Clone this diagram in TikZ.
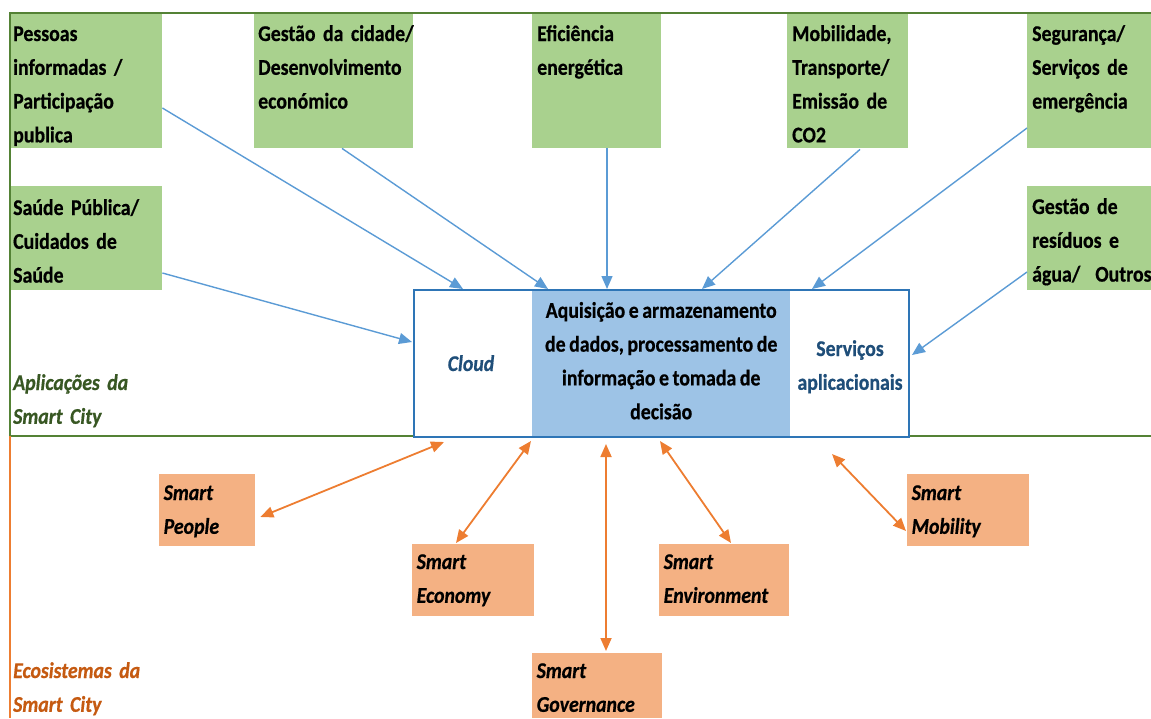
\documentclass[tikz,border=0pt]{standalone}
\usepackage{fontspec}
\setmainfont{Carlito}[FakeStretch=0.88,WordSpace=0.8,
  BoldFeatures={FakeBold=0.6},BoldItalicFeatures={FakeBold=0.6}]
\usetikzlibrary{arrows.meta}
\definecolor{gfill}{HTML}{A9D18E}
\definecolor{ofill}{HTML}{F4B183}
\definecolor{pfill}{HTML}{9DC3E6}
\definecolor{frameg}{HTML}{548235}
\definecolor{frameo}{HTML}{ED7D31}
\definecolor{bline}{HTML}{2E75B6}
\definecolor{barr}{HTML}{5B9BD5}
\definecolor{navy}{HTML}{1F4E79}
\definecolor{dgreen}{HTML}{385723}
\definecolor{dorange}{HTML}{C55A11}

\begin{document}
\begin{tikzpicture}[x=1pt,y=-1pt,
  bodyfont/.style={font=\fontsize{22.5}{33.8}\selectfont\bfseries},
  slantfont/.style={font=\fontsize{22.5}{33.8}\selectfont\bfseries\itshape},
  gbox/.style={rectangle,fill=gfill,inner sep=0,anchor=north west},
  obox/.style={rectangle,fill=ofill,inner sep=0,anchor=north west},
  boxtext/.style={bodyfont,anchor=base west,inner sep=0,align=left,text width=200pt},
  smarttext/.style={slantfont,anchor=base west,inner sep=0,align=left,text width=160pt},
  barrow/.style={draw=barr,line width=1.4pt,-{Triangle[length=13pt,width=11pt]}},
  oarrow/.style={draw=frameo,line width=1.8pt,
    {Triangle[length=13pt,width=11pt]}-{Triangle[length=13pt,width=11pt]}},
  head/.style={bodyfont,inner sep=0}
]
\useasboundingbox (0,0) rectangle (1151,718);

% application boxes (green)
\node[gbox,minimum width=152pt,minimum height=134pt] (pess) at (10,14) {};
\node[gbox,minimum width=159pt,minimum height=134pt] (gest) at (254,14) {};
\node[gbox,minimum width=129pt,minimum height=134pt] (efic) at (532,14) {};
\node[gbox,minimum width=121pt,minimum height=134pt] (mob)  at (787,14) {};
\node[gbox,minimum width=124pt,minimum height=134pt] (seg)  at (1027,14) {};
\node[gbox,minimum width=152pt,minimum height=104pt] (saude) at (10,186) {};
\node[gbox,minimum width=124pt,minimum height=104pt] (resid) at (1027,186) {};

\node[boxtext] (pess-t) at ([xshift=3pt,yshift=-27pt]pess.north west)
  {Pessoas\\informadas /\\Participação\\publica};
\node[boxtext] (gest-t) at ([xshift=4pt,yshift=-27pt]gest.north west)
  {Gestão da cidade/\\Desenvolvimento\\económico};
\node[boxtext] (efic-t) at ([xshift=5pt,yshift=-27pt]efic.north west)
  {Eficiência\\energética};
\node[boxtext] (mob-t) at ([xshift=5pt,yshift=-27pt]mob.north west)
  {Mobilidade,\\Transporte/\\Emissão de\\CO2};
\node[boxtext] (seg-t) at ([xshift=5pt,yshift=-27pt]seg.north west)
  {Segurança/\\Serviços de\\emergência};
\node[boxtext] (saude-t) at ([xshift=3pt,yshift=-29pt]saude.north west)
  {Saúde Pública/\\Cuidados de\\Saúde};
\node[boxtext] (resid-t) at ([xshift=5pt,yshift=-28pt]resid.north west)
  {Gestão de\\resíduos e\\água/\ \ Outros};

% frame of the applications layer
\draw[frameg,line width=2.2pt] (1151,13) -- (10,13) -- (10,436) -- (413,436);
\draw[frameg,line width=2.2pt] (908,436) -- (1151,436);
% frame of the ecosystems layer
\draw[frameo,line width=2.2pt] (10,436) -- (10,718);

% central platform
\node[fill=pfill,inner sep=0,anchor=north west,minimum width=258pt,minimum height=147pt] (proc) at (532,289) {};
\node[draw=bline,line width=2pt,inner sep=0,anchor=north west,minimum width=495pt,minimum height=147pt] (cen) at (413,289) {};
\node[head,align=center] (proc-t) at ([yshift=2pt]proc.center)
  {Aquisição e armazenamento\\de dados, processamento de\\informação e tomada de\\decisão};
\node[slantfont,text=navy,inner sep=0,anchor=base] (cloud) at ([xshift=58pt,yshift=-7.5pt]cen.west) {Cloud};
\node[bodyfont,text=navy,inner sep=0,anchor=base,align=center,text width=116pt]
  (serv) at ([xshift=-60pt,yshift=7.5pt]cen.east) {Serviços\\aplicacionais};

% layer captions
\node[slantfont,text=dgreen,anchor=base west,inner sep=0,align=left,text width=160pt] (apl) at (13,390)
  {Aplicações da\\Smart City};
\node[slantfont,text=dorange,anchor=base west,inner sep=0,align=left,text width=160pt] (eco) at (13,678)
  {Ecosistemas da\\Smart City};

% ecosystem boxes (orange)
\node[obox,minimum width=96pt,minimum height=72pt] (peop) at (159,474) {};
\node[obox,minimum width=122pt,minimum height=72pt] (econ) at (412,544) {};
\node[obox,minimum width=130pt,minimum height=65pt] (gov)  at (532,653) {};
\node[obox,minimum width=130pt,minimum height=72pt] (env)  at (659,544) {};
\node[obox,minimum width=122pt,minimum height=72pt] (mobi) at (907,474) {};

\node[smarttext] (peop-t) at ([xshift=4.5pt,yshift=-26pt]peop.north west) {Smart\\People};
\node[smarttext] (econ-t) at ([xshift=4.5pt,yshift=-25pt]econ.north west) {Smart\\Economy};
\node[smarttext] (gov-t) at ([xshift=4.5pt,yshift=-25pt]gov.north west) {Smart\\Governance};
\node[smarttext] (env-t) at ([xshift=4.5pt,yshift=-25pt]env.north west) {Smart\\Environment};
\node[smarttext] (mobi-t) at ([xshift=4.5pt,yshift=-26pt]mobi.north west) {Smart\\Mobility};

% applications feeding the platform
\draw[barrow] ([yshift=-94pt]pess.north east) -- ([xshift=50pt]cen.north west);
\draw[barrow] ([xshift=88pt]gest.south west) -- ([xshift=135pt]cen.north west);
\draw[barrow] ([xshift=75pt]efic.south west) -- ([xshift=194pt]cen.north west);
\draw[barrow] ([xshift=73pt,yshift=-1pt]mob.south west) -- ([xshift=289pt]cen.north west);
\draw[barrow] ([yshift=-114pt]seg.north west) -- ([xshift=399pt]cen.north west);
\draw[barrow] ([yshift=-87pt]saude.north east) -- ([xshift=-1pt,yshift=-53pt]cen.north west);
\draw[barrow] ([yshift=-86pt]resid.north west) -- ([xshift=2pt,yshift=-66pt]cen.north east);

% platform <-> ecosystems
\draw[oarrow] ([xshift=5pt,yshift=-43pt]peop.north east) -- ([xshift=31pt,yshift=-4pt]cen.south west);
\draw[oarrow] ([xshift=44pt,yshift=1pt]econ.north west) -- ([xshift=118pt,yshift=-3pt]cen.south west);
\draw[oarrow] ([xshift=74pt,yshift=2pt]gov.north west) -- ([xshift=193pt,yshift=-6pt]cen.south west);
\draw[oarrow] ([xshift=72pt,yshift=1pt]env.north west) -- ([xshift=247pt,yshift=-3pt]cen.south west);
\draw[oarrow] ([xshift=-1pt,yshift=-57pt]mobi.north west) -- ([xshift=419pt,yshift=-16pt]cen.south west);
\end{tikzpicture}
\end{document}
